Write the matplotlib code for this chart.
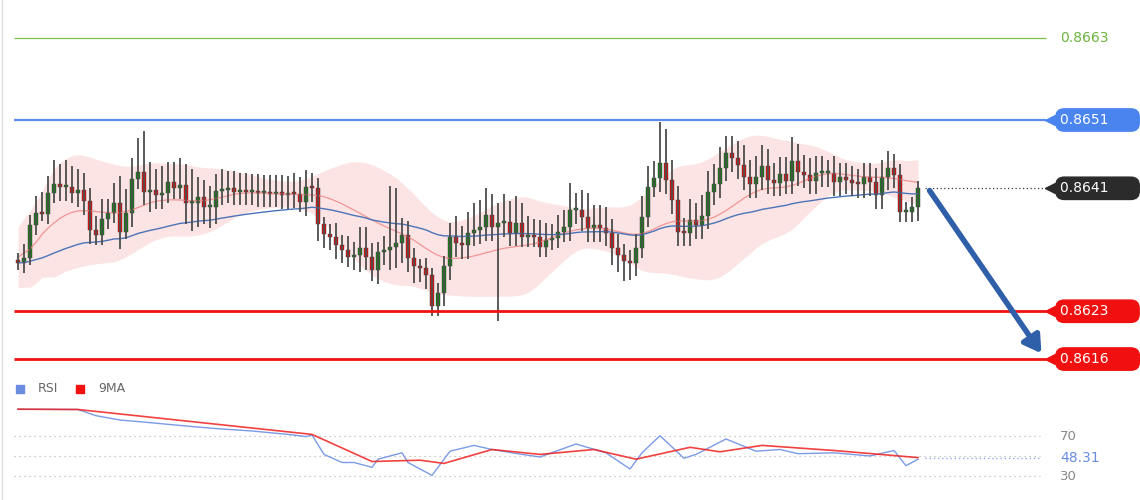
import matplotlib
matplotlib.use('Agg')
import matplotlib.pyplot as plt
import numpy as np
import pandas as pd

#%% data (prices in pips above 0.8600)
closes = [30.1, 30.8, 35.6, 37.4, 37.2, 40.3, 41.6, 41.2, 41.2, 40.3,
          40.8, 39.1, 34.9, 34.2, 36.5, 37.4, 38.8, 34.6, 37.4, 42.4,
          43.4, 40.5, 40.8, 40.0, 40.3, 41.9, 41.0, 41.5, 38.8, 38.8,
          39.7, 38.2, 38.3, 40.6, 40.8, 41.0, 40.5, 40.8, 40.5, 40.6,
          40.3, 40.5, 40.2, 40.4, 40.0, 40.3, 40.1, 39.0, 41.2, 41.0,
          35.8, 34.3, 33.9, 32.7, 32.0, 31.0, 31.2, 32.3, 31.0, 29.0,
          31.7, 32.0, 32.4, 33.0, 34.2, 30.8, 29.6, 29.3, 28.3, 23.8,
          25.7, 29.6, 33.9, 33.0, 32.7, 34.5, 34.9, 35.3, 37.1, 35.3,
          35.9, 36.1, 34.5, 35.9, 33.9, 34.0, 33.9, 32.4, 33.4, 33.7,
          34.6, 35.3, 37.8, 37.8, 36.8, 35.2, 35.6, 35.2, 34.5, 32.3,
          31.3, 30.4, 30.1, 32.3, 36.8, 41.2, 42.5, 44.7, 42.2, 39.3,
          34.6, 34.5, 36.4, 35.6, 37.0, 40.5, 41.6, 44.0, 46.2, 45.4,
          44.4, 42.7, 41.6, 42.7, 44.3, 42.2, 41.8, 43.1, 42.1, 45.0,
          43.4, 43.0, 42.1, 43.2, 43.2, 43.2, 41.9, 42.7, 42.2, 41.8,
          41.6, 42.7, 41.9, 40.0, 42.7, 44.0, 43.0, 37.5, 37.5, 38.2,
          41.0]
first_open = 30.5
wick_up = [1.0, 2.0, 1.5, 2.5, 3.0, 2.5, 3.5, 3.0, 4.0, 3.0,
           3.0, 2.5, 2.0, 2.0, 3.0, 2.0, 3.0, 4.0, 3.5, 3.0,
           5.0, 6.0, 4.0, 3.0, 4.0, 3.0, 3.0, 4.0, 3.0, 5.0,
           3.0, 2.5, 3.0, 2.5, 3.0, 2.5, 2.5, 2.5, 2.5, 2.5,
           2.5, 2.5, 2.5, 2.5, 2.5, 2.5, 3.0, 2.5, 2.5, 2.0,
           1.5, 1.0, 1.5, 2.0, 1.5, 2.0, 2.0, 3.0, 3.0, 2.0,
           1.5, 2.0, 9.0, 8.0, 2.5, 2.0, 1.5, 1.0, 1.5, 1.0,
           1.5, 1.5, 2.0, 3.0, 2.5, 3.0, 4.0, 4.0, 4.0, 3.0,
           3.0, 4.0, 3.0, 4.0, 3.0, 3.0, 2.5, 2.5, 2.5, 2.0,
           2.5, 2.5, 4.0, 2.5, 3.0, 3.5, 3.0, 3.0, 3.0, 2.0,
           2.0, 1.5, 1.5, 2.0, 3.0, 3.0, 2.5, 6.0, 5.0, 3.0,
           2.0, 2.0, 3.0, 2.5, 3.0, 3.0, 3.0, 3.0, 2.5, 2.5,
           2.5, 3.0, 2.5, 3.0, 3.0, 2.5, 2.5, 2.5, 2.5, 3.5,
           2.5, 2.5, 2.5, 2.5, 2.5, 2.0, 2.5, 2.0, 2.0, 2.0,
           2.0, 2.0, 2.0, 2.0, 2.5, 2.5, 2.0, 1.5, 1.5, 1.5,
           1.0]
wick_dn = [1.0, 1.5, 1.0, 1.5, 1.0, 1.5, 1.5, 2.0, 2.0, 1.5,
           2.0, 2.0, 2.0, 1.5, 1.5, 1.5, 1.5, 2.5, 1.0, 2.0,
           1.5, 2.0, 3.0, 2.0, 2.0, 1.5, 1.5, 1.5, 3.0, 4.0,
           3.5, 2.5, 3.0, 2.5, 2.0, 2.0, 2.0, 2.0, 2.0, 2.0,
           2.0, 2.0, 2.0, 2.0, 2.0, 2.0, 2.0, 1.5, 2.0, 2.0,
           2.5, 2.0, 2.0, 2.0, 2.0, 1.5, 2.0, 2.5, 2.0, 1.5,
           2.0, 2.0, 3.0, 3.0, 3.0, 2.0, 2.5, 2.0, 2.0, 1.5,
           1.5, 2.0, 2.0, 2.0, 2.0, 2.0, 2.0, 2.0, 2.0, 2.0,
           13.8, 2.0, 2.0, 2.0, 1.5, 1.5, 1.5, 1.5, 1.5, 1.5,
           1.5, 1.5, 2.0, 2.0, 2.0, 2.0, 2.0, 2.0, 2.0, 2.5,
           2.5, 3.0, 2.5, 2.0, 1.5, 1.5, 1.5, 2.0, 2.0, 2.0,
           2.0, 2.0, 2.0, 2.0, 2.0, 2.0, 2.0, 2.0, 2.0, 2.0,
           2.0, 2.0, 2.0, 2.0, 2.0, 2.0, 2.0, 2.0, 2.0, 2.0,
           2.0, 2.0, 2.0, 2.0, 2.0, 2.0, 2.0, 2.0, 2.0, 2.0,
           2.0, 2.0, 2.0, 2.0, 2.0, 2.0, 2.0, 1.5, 1.5, 1.5,
           2.0]

rsi_idx = [0, 10, 13, 17, 21, 28, 33, 39, 45, 48, 49, 51, 54, 56, 59, 60,
           64, 65, 69, 72, 76, 79, 84, 87, 93, 98, 102, 104, 107, 111, 113,
           118, 123, 127, 130, 136, 142, 146, 148, 150]
rsi_val = [96.8, 96.5, 90.3, 86.0, 83.9, 80.0, 77.4, 75.0, 71.6, 69.4, 71.0,
           51.6, 43.5, 43.5, 38.7, 46.8, 53.2, 43.5, 30.6, 54.8, 60.6, 56.5,
           51.6, 49.0, 62.0, 53.2, 37.0, 53.2, 70.3, 47.7, 51.6, 67.0, 54.8,
           56.5, 52.3, 53.2, 50.0, 55.5, 40.3, 46.8]
ma9_idx = [0, 10, 49, 59, 67, 71, 79, 87, 96, 103, 112, 117, 124, 136, 150]
ma9_val = [96.8, 96.5, 71.6, 44.5, 45.8, 42.6, 56.5, 51.6, 56.5, 46.8, 58.7,
           54.2, 60.6, 55.5, 48.4]

levels = [0.8663, 0.8651, 0.8641, 0.8623, 0.8616]
rsi_last = 48.31

#%% derived
c = np.array(closes)
o = np.concatenate([[first_open], c[:-1]])
h = np.maximum(o, c) + np.array(wick_up)
l = np.minimum(o, c) - np.array(wick_dn)
s = pd.Series(c)
mid = s.rolling(20, min_periods=1).mean().rolling(5, min_periods=1, center=True).mean()
sd = s.rolling(20, min_periods=2).std().bfill()
sd = sd.rolling(9, min_periods=1, center=True).mean()
up, dn = mid + 2 * sd, mid - 2 * sd
slow = s.ewm(span=55, adjust=False).mean()
idx = np.arange(len(c))

def px(xp):
    return (xp - 18) / 6.0

def pip(p):
    return (p - 0.86) * 10000

fig = plt.figure(figsize=(11.4, 5.0), dpi=100)
ax = fig.add_axes([0, 0.25, 1, 0.75])
ax2 = fig.add_axes([0, 0, 1, 0.25])
for a in (ax, ax2):
    a.set_xlim(px(0), px(1140))
    a.axis('off')
ax.set_ylim(51 - 255 / 6.83, 51 + 120 / 6.83)
ax2.set_ylim(6, 131)

# band and averages
ax.fill_between(idx, dn, up, color='#fbdcdc', alpha=0.75, lw=0)
ax.plot(idx, mid, color='#f08080', lw=0.9, alpha=0.8)
ax.plot(idx, slow, color='#4a74b8', lw=1.0)

# candles
for i in idx:
    col = '#138a13' if c[i] >= o[i] else '#ee1111'
    ax.vlines(i, l[i], h[i], color='#4d4d4d', lw=1.3)
    b = max(abs(c[i] - o[i]), 0.3)
    ax.bar(i, b, bottom=min(o[i], c[i]), width=0.8, color=col, edgecolor='#333333', lw=0.3)

# levels
x0, x1 = px(14), px(1046)
lab_x = px(1060)
ax.hlines(pip(levels[0]), x0, x1, color='#7cc24a', lw=0.9)
ax.text(lab_x, pip(levels[0]), f'{levels[0]:.4f}', color='#6cb33f', fontsize=10, va='center')
ax.hlines(pip(levels[1]), x0, x1, color='#5b8def', lw=1.6)
ax.hlines(pip(levels[2]), px(925), x1, color='#333333', lw=0.9, linestyles=(0, (1, 2)))
ax.hlines([pip(levels[3]), pip(levels[4])], x0, x1, color='#f01010', lw=2.0)
for lv, fc in [(levels[1], '#4a84ee'), (levels[2], '#2b2b2b'),
               (levels[3], '#f01010'), (levels[4], '#f01010')]:
    ax.text(lab_x, pip(lv), f'{lv:.4f}' + '\u2007' * 3, color='white', fontsize=10, va='center',
            bbox=dict(boxstyle='round,pad=0.3,rounding_size=0.6', fc=fc, ec=fc))
    ax.plot([px(1050)], [pip(lv)], marker='<', color=fc, ms=7)

# arrow
ax.annotate('', xy=(px(1043), pip(0.86165)), xytext=(px(928), pip(levels[2])),
            arrowprops=dict(arrowstyle='-|>,head_width=0.6,head_length=1.0',
                            color='#2f5fa8', lw=4))

# RSI panel
for v in (70, 50, 30):
    ax2.hlines(v, px(14), px(1040), color='#bbbbbb', lw=0.9, linestyles=(0, (1, 3)))
ax2.text(px(1060), 70, '70', color='#888888', fontsize=9.5, va='center')
ax2.text(px(1060), 30, '30', color='#888888', fontsize=9.5, va='center')
ax2.text(px(1060), rsi_last, f'{rsi_last:.2f}', color='#6a8de0', fontsize=10, va='center')
ax2.hlines(rsi_last, px(925), px(1040), color='#8fa8e8', lw=1.0, linestyles=(0, (1, 2)))
ax2.plot(rsi_idx, rsi_val, color='#7b9be6', lw=1.0)
ax2.plot(ma9_idx, ma9_val, color='#f02020', lw=1.2, alpha=0.85)
ax2.plot([px(20)], [117], marker='s', color='#6a8de0', ms=6)
ax2.text(px(38), 117, 'RSI', color='#666666', fontsize=9, va='center')
ax2.plot([px(80)], [117], marker='s', color='#f01010', ms=6)
ax2.text(px(98), 117, '9MA', color='#666666', fontsize=9, va='center')

fig.add_artist(plt.Line2D([0.002, 0.002], [0, 1], color='#dddddd', lw=1))
fig.savefig('out.png', dpi=100)
